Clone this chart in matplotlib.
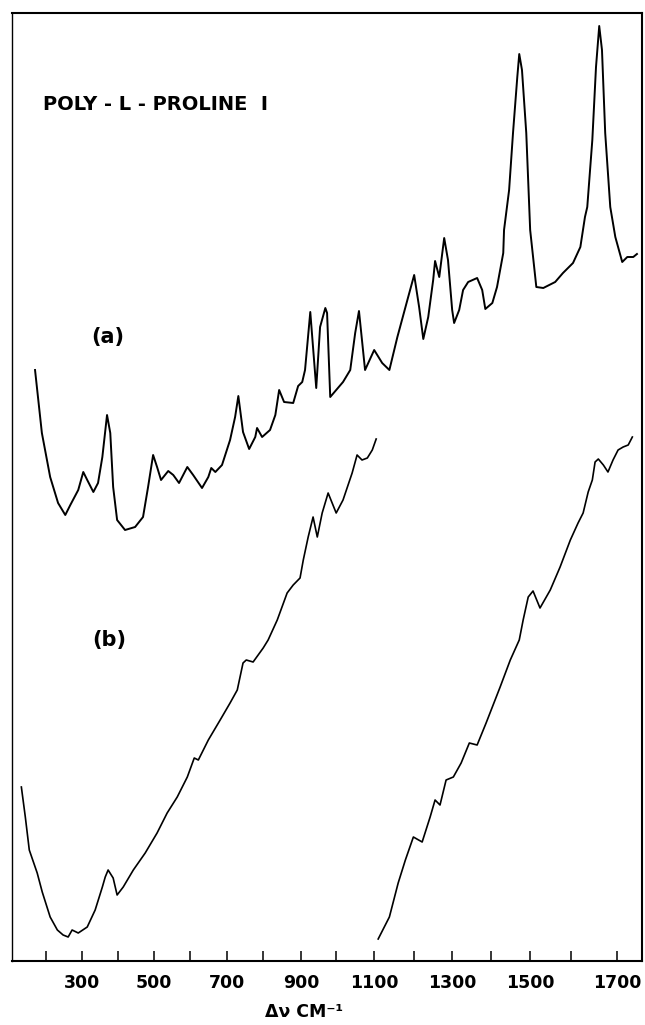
import matplotlib
matplotlib.use("Agg")
import matplotlib.pyplot as plt
import numpy as np

# spectrum (a): Raman shift (cm-1) and relative intensity (arb. units)
a_shift = [169, 188, 211, 233, 253, 267, 289, 303, 314, 331, 344, 356, 369, 378, 386, 397,
           419, 447, 469, 483, 497, 508, 519, 539, 553, 569, 592, 608, 632, 649, 657, 668,
           686, 708, 722, 731, 744, 761, 778, 783, 797, 818, 832, 842, 855, 879, 892, 903,
           911, 926, 943, 954, 969, 974, 983, 1018, 1037, 1050, 1060, 1076, 1100, 1120, 1138,
           1158, 1183, 1200, 1213, 1224, 1237, 1250, 1255, 1266, 1279, 1289, 1300, 1305,
           1318, 1328, 1341, 1364, 1377, 1385, 1403, 1415, 1431, 1433, 1446, 1456, 1467,
           1472, 1479, 1490, 1500, 1515, 1532, 1561, 1580, 1604, 1620, 1630, 1635, 1646,
           1654, 1661, 1667, 1674, 1685, 1696, 1711, 1722, 1735, 1743]
a_int = [591, 528, 484, 458, 446, 456, 471, 489, 481, 469, 478, 504, 546, 528, 474, 441,
         431, 434, 444, 474, 506, 494, 481, 490, 486, 478, 494, 486, 473, 484, 493, 489,
         496, 521, 544, 565, 529, 512, 524, 533, 524, 531, 546, 571, 559, 558, 575, 579,
         591, 649, 573, 634, 653, 648, 564, 579, 591, 628, 650, 591, 611, 598, 591,
         624, 661, 686, 654, 622, 644, 681, 700, 684, 723, 701, 651, 638,
         651, 671, 679, 683, 671, 652, 658, 674, 708, 731, 771, 828, 884,
         907, 891, 828, 731, 674, 673, 679, 688, 698, 714, 744, 754, 821,
         894, 935, 911, 828, 754, 724, 699, 704, 704, 707]

# spectrum (b), first scan
b1_shift = [131, 142, 153, 175, 189, 211, 231, 247, 261, 272, 289, 314, 336, 356, 364, 372,
            386, 397, 414, 442, 475, 508, 536, 564, 592, 611, 622, 649, 681, 708, 728, 744,
            753, 772, 800, 813, 837, 863, 879, 897, 906, 920, 934, 946, 960, 977, 1000,
            1018, 1042, 1055, 1068, 1082, 1095, 1105]
b1_int = [174, 144, 111, 88, 69, 44, 31, 26, 24, 31, 28, 34, 51, 74, 84, 91,
          83, 66, 74, 91, 108, 128, 148, 164, 184, 203, 201, 221, 241, 258, 271, 298,
          301, 299, 313, 321, 341, 368, 376, 383, 401, 424, 444, 424, 448, 468, 448,
          461, 488, 506, 501, 503, 511, 522]

# spectrum (b), second scan
b2_shift = [1110, 1138, 1160, 1178, 1198, 1221, 1242, 1255, 1268, 1284, 1303, 1323, 1344,
            1364, 1387, 1403, 1423, 1449, 1472, 1482, 1495, 1507, 1524, 1549, 1573, 1598,
            1615, 1626, 1637, 1646, 1652, 1659, 1670, 1680, 1691, 1702, 1713, 1724, 1733]
b2_int = [22, 44, 78, 101, 124, 119, 144, 161, 156, 181, 184, 198, 218,
          216, 238, 254, 274, 301, 321, 341, 364, 370, 353, 371, 394, 421,
          438, 448, 469, 481, 499, 502, 496, 489, 501, 511, 514, 516, 524]

tick_shift = list(range(200, 1701, 100))

# the printed wavenumber scale is not linear; calibrate it from the tick marks
cal_wn = [100, 200, 300, 400, 500, 600, 700, 800, 900, 1000, 1100, 1200, 1300, 1400,
          1500, 1600, 1700, 1800]
cal_pos = [10, 46, 82, 118, 154, 190, 227, 263, 301, 336, 374, 414, 452, 491,
           530, 571, 617, 663]


def fwd(x):
    return np.interp(x, cal_wn, cal_pos)


def inv(p):
    return np.interp(p, cal_pos, cal_wn)


fig = plt.figure(figsize=(6.45, 10.25), dpi=100)
ax = fig.add_axes([12 / 645, 64 / 1025, 630 / 645, 948 / 1025])
ax.set_xscale('function', functions=(fwd, inv))

ax.plot(a_shift, a_int, color='black', lw=1.4)
ax.plot(b1_shift, b1_int, color='black', lw=1.2)
ax.plot(b2_shift, b2_int, color='black', lw=1.2)

ax.set_xlim(105, 1754)
ax.set_ylim(0, 948)
ax.set_yticks([])
ax.set_xticks(tick_shift)
ax.set_xticklabels([str(v) if v % 200 == 100 else '' for v in tick_shift],
                   fontsize=12.5, fontweight='bold')
ax.xaxis.set_minor_locator(plt.NullLocator())
ax.tick_params(axis='x', direction='in', length=7, width=1.1, pad=9)

for side in ['top', 'bottom', 'right']:
    ax.spines[side].set_linewidth(1.5)
ax.spines['left'].set_linewidth(1.0)

ax.text(0.049, 0.904, "POLY - L - PROLINE  I", transform=ax.transAxes,
        fontsize=14, fontweight='bold', ha='left', va='center')
ax.text(0.152, 0.658, "(a)", transform=ax.transAxes,
        fontsize=15, fontweight='bold', ha='center', va='center')
ax.text(0.154, 0.339, "(b)", transform=ax.transAxes,
        fontsize=15, fontweight='bold', ha='center', va='center')
ax.text(0.463, -0.054, "Δν CM⁻¹", transform=ax.transAxes,
        fontsize=12.5, fontweight='bold', ha='center', va='center')

fig.savefig("out.png", dpi=100)
